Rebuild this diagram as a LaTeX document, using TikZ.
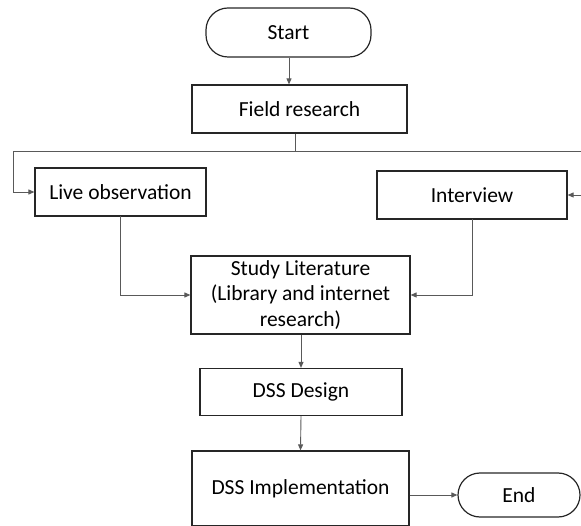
\documentclass[tikz,border=0pt]{standalone}
\usepackage{fontspec}
\setmainfont{Carlito}
\usetikzlibrary{arrows.meta}
\begin{document}
\begin{tikzpicture}[x=1pt,y=-1pt,
  box/.style={draw=black!85,line width=1.2pt,inner sep=0pt,align=center,
    font=\fontsize{21.5}{25.5}\selectfont,text=black},
  term/.style={box,rounded corners=22pt},
  conn/.style={draw=black!65,line width=0.9pt},
  arr/.style={conn,-{Triangle[length=6pt,width=5pt]}}]
\useasboundingbox (0,0) rectangle (581,526);
\node[term,minimum width=165pt,minimum height=49pt] (start) at (288.5,32.5) {Start};
\node[box,minimum width=215pt,minimum height=48pt] (field) at (299.5,109) {Field research};
\node[box,minimum width=171pt,minimum height=48pt] (live) at (120.5,192) {Live observation};
\node[box,minimum width=190pt,minimum height=48pt] (interview) at (472,195) {Interview};
\node[box,minimum width=219pt,minimum height=78pt] (study) at (300.5,295) {Study Literature\\(Library and internet\\research)};
\node[box,minimum width=202pt,minimum height=47pt] (design) at (301,392) {DSS Design};
\node[box,minimum width=217pt,minimum height=75pt] (impl) at (300.5,488.5) {DSS Implementation};
\node[term,minimum width=122pt,minimum height=44pt] (end) at (519,495) {End};
\coordinate (branch) at (295,151);
\coordinate (L) at (13,151);
\coordinate (R) at (581,151);
\coordinate (R2) at (581,195);
\coordinate (lv) at (120,216);
\coordinate (iv) at (472,219);
\draw[arr] (start.south -| 289,0) -- (field.north -| 289,0);
\draw[conn] (field.south -| branch) -- (branch);
\draw[arr] (branch) -- (L) |- (live.west);
\draw[conn] (branch) -- (R);
\draw[arr] (R2) -- (interview.east);
\draw[arr] (lv) |- (study.west);
\draw[arr] (iv) |- (study.east);
\draw[arr] (study.south -| design.north) -- (design.north);
\draw[arr] (design.south) -- (impl.north);
\draw[arr] (impl.east |- end.west) -- (end.west);
\end{tikzpicture}
\end{document}
